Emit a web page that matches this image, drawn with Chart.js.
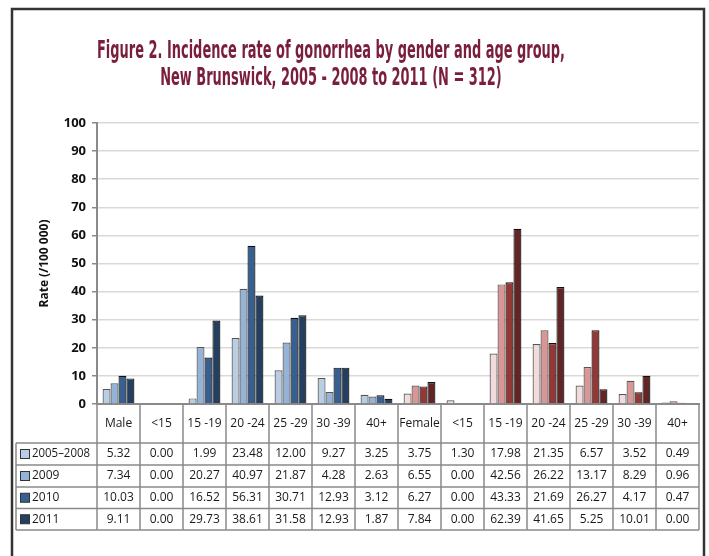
<!DOCTYPE html>
<html>
<head>
<meta charset="utf-8">
<script src="https://cdn.jsdelivr.net/npm/chart.js@4"></script>
<style>
  html, body { margin: 0; padding: 0; background: #fff; }
  #wrap { position: relative; width: 709px; height: 556px; }
</style>
</head>
<body>
<div id="wrap"><canvas id="chart" width="709" height="556"></canvas></div>
<script>
// data (the table gives the exact values)
const categories = ['Male', '<15', '15 -19', '20 -24', '25 -29', '30 -39', '40+',
                    'Female', '<15', '15 -19', '20 -24', '25 -29', '30 -39', '40+'];
const seriesNames = ['2005\u20132008', '2009', '2010', '2011'];
const rates2005_2008 = [5.32, 0.00, 1.99, 23.48, 12.00, 9.27, 3.25, 3.75, 1.30, 17.98, 21.35, 6.57, 3.52, 0.49];
const rates2009 = [7.34, 0.00, 20.27, 40.97, 21.87, 4.28, 2.63, 6.55, 0.00, 42.56, 26.22, 13.17, 8.29, 0.96];
const rates2010 = [10.03, 0.00, 16.52, 56.31, 30.71, 12.93, 3.12, 6.27, 0.00, 43.33, 21.69, 26.27, 4.17, 0.47];
const rates2011 = [9.11, 0.00, 29.73, 38.61, 31.58, 12.93, 1.87, 7.84, 0.00, 62.39, 41.65, 5.25, 10.01, 0.00];
const yTicks = [0, 10, 20, 30, 40, 50, 60, 70, 80, 90, 100];

const maleColors = ['#b9cde5', '#95b3d7', '#376092', '#243f60'];
const femaleColors = ['#f2dcdb', '#d99694', '#953735', '#632523'];
const series = [rates2005_2008, rates2009, rates2010, rates2011];

// first 7 categories are the male group, the rest female
function barColors(i) {
  return categories.map((c, k) => k < 7 ? maleColors[i] : femaleColors[i]);
}

const datasets = series.map((vals, i) => ({
  label: seriesNames[i],
  data: vals,
  backgroundColor: barColors(i),
  borderColor: i < 2 ? '#555' : '#111',
  borderWidth: 1.2,
  categoryPercentage: 0.74,
  barPercentage: 1.0
}));

const TEXT_FONT = '"Open Sans", "Noto Sans", sans-serif';

// frame, title and the data table under the axis
const extras = {
  id: 'extras',
  beforeDraw(chart) {
    const ctx = chart.ctx;
    ctx.save();
    ctx.strokeStyle = '#333';
    ctx.lineWidth = 2.5;
    ctx.strokeRect(12, 9, 692, 570);

    // title in a condensed face
    ctx.fillStyle = '#7a1f3b';
    ctx.font = 'bold 25px "Liberation Sans Narrow", "DejaVu Sans Condensed", sans-serif';
    ctx.textAlign = 'center';
    ctx.textBaseline = 'alphabetic';
    const l1 = 'Figure 2. Incidence rate of gonorrhea by gender and age group,';
    const l2 = 'New Brunswick, 2005 - 2008 to 2011 (N = 312)';
    const sx = 468 / ctx.measureText(l1).width;
    ctx.translate(331, 0);
    ctx.scale(sx, 1);
    ctx.fillText(l1, 0, 58);
    ctx.fillText(l2, 0, 85);
    ctx.restore();
  },
  afterDraw(chart) {
    const ctx = chart.ctx;
    const x = chart.scales.x;
    const area = chart.chartArea;
    const colW = (x.getPixelForValue(1) - x.getPixelForValue(0));
    const left = area.left, right = area.right;
    const tableLeft = 16;
    const top = area.bottom;
    const rowTops = [top, 443, 465, 487, 508.5, 530];

    ctx.save();
    ctx.strokeStyle = '#8a8a8a';
    ctx.lineWidth = 1.5;
    ctx.beginPath();
    // horizontal lines
    for (let r = 1; r < rowTops.length; r++) {
      ctx.moveTo(tableLeft, rowTops[r]);
      ctx.lineTo(right, rowTops[r]);
    }
    // vertical lines at column edges
    for (let k = 0; k <= categories.length; k++) {
      const px = left + k * colW;
      ctx.moveTo(px, top);
      ctx.lineTo(px, rowTops[5]);
    }
    ctx.moveTo(tableLeft, rowTops[1]);
    ctx.lineTo(tableLeft, rowTops[5]);
    ctx.stroke();

    ctx.fillStyle = '#1a1a1a';
    ctx.textAlign = 'center';
    ctx.textBaseline = 'middle';
    ctx.font = '12px ' + TEXT_FONT;
    categories.forEach((c, k) => {
      ctx.fillText(c, x.getPixelForValue(k), 424);
    });
    series.forEach((vals, i) => {
      const cy = (rowTops[i + 1] + rowTops[i + 2]) / 2;
      vals.forEach((v, k) => {
        ctx.fillText(v.toFixed(2), x.getPixelForValue(k), cy);
      });
      // legend key
      ctx.fillStyle = maleColors[i];
      ctx.fillRect(20.5, cy - 4.5, 9, 9);
      ctx.strokeStyle = '#333';
      ctx.lineWidth = 1;
      ctx.strokeRect(20.5, cy - 4.5, 9, 9);
      ctx.fillStyle = '#1a1a1a';
      ctx.textAlign = 'left';
      ctx.fillText(seriesNames[i], 32, cy, 58);
      ctx.textAlign = 'center';
    });
    ctx.restore();
  }
};

new Chart(document.getElementById('chart'), {
  type: 'bar',
  data: { labels: categories, datasets: datasets },
  plugins: [extras],
  options: {
    responsive: false,
    animation: false,
    layout: { padding: { left: 33, right: 10, top: 123, bottom: 0 } },
    plugins: {
      legend: { display: false },
      title: { display: false },
      tooltip: { enabled: false }
    },
    scales: {
      x: {
        afterFit(scale) { scale.height = 152; },
        grid: { drawOnChartArea: false, drawTicks: false },
        border: { color: '#8a8a8a', width: 2 },
        ticks: { display: false }
      },
      y: {
        min: 0,
        max: 100,
        afterFit(scale) { scale.width = 64; },
        afterBuildTicks(scale) { scale.ticks = yTicks.map(v => ({ value: v })); },
        grid: { color: '#d9d9d9', lineWidth: 1.5, tickColor: '#8a8a8a', tickLength: 5 },
        border: { color: '#8a8a8a', width: 2 },
        ticks: {
          color: '#111',
          padding: 6,
          font: { family: TEXT_FONT, size: 13, weight: 'bold' }
        },
        title: {
          display: true,
          text: 'Rate (/100 000)',
          color: '#111',
          padding: { top: 4, bottom: 4 },
          font: { family: TEXT_FONT, size: 12, weight: 'bold' }
        }
      }
    }
  }
});
</script>
</body>
</html>
